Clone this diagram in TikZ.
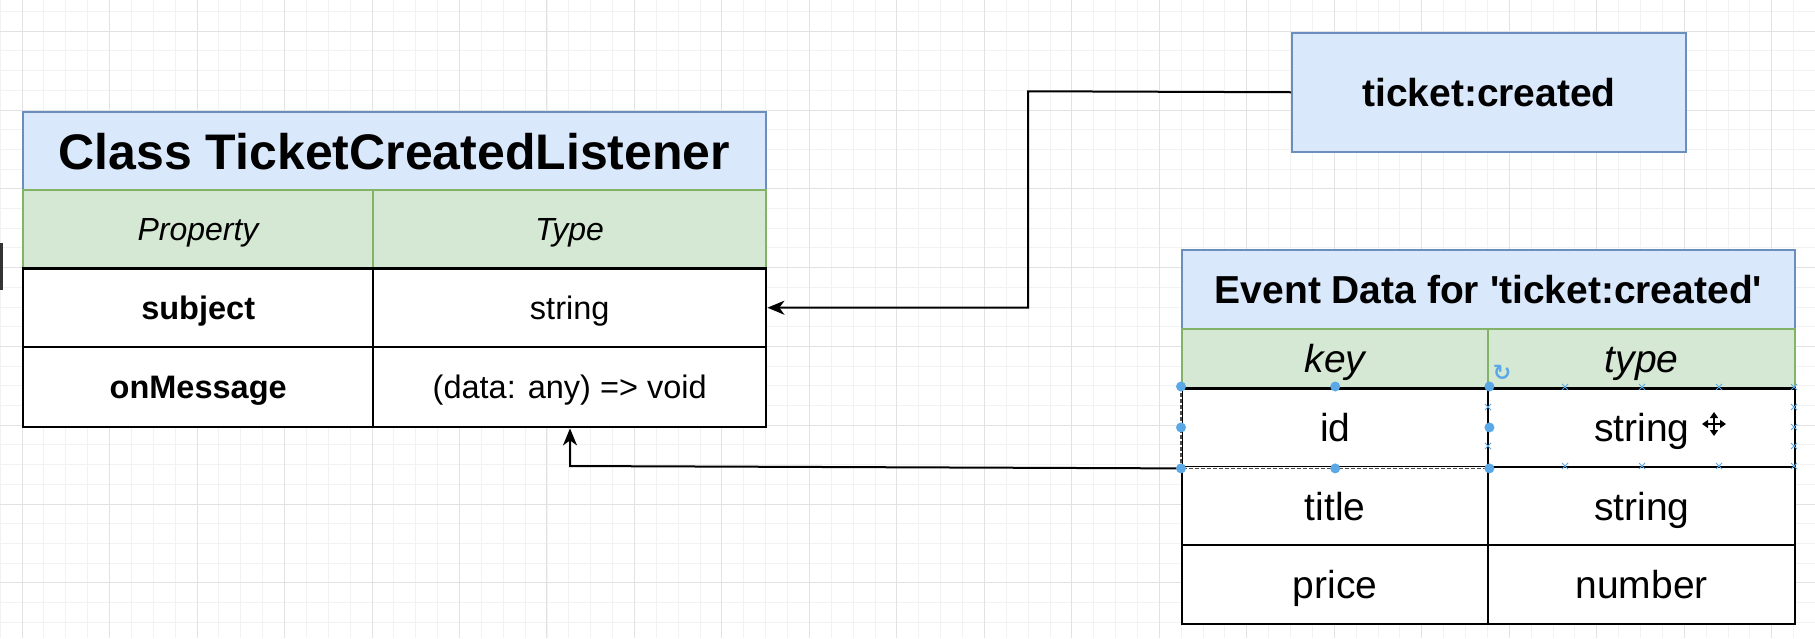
\documentclass[tikz,border=0pt]{standalone}
\usepackage{fontspec}
\setmainfont{Liberation Sans}
\newfontfamily\plainfont{Liberation Sans}
\newfontfamily\symfont{DejaVu Sans}
\usetikzlibrary{arrows.meta}
\definecolor{lblue}{HTML}{DAE8FC}
\definecolor{tblue}{HTML}{6C8EBF}
\definecolor{lgreen}{HTML}{D5E8D4}
\definecolor{tgreen}{HTML}{82B366}
\definecolor{selblue}{HTML}{5AA8E6}
\definecolor{minorgrid}{HTML}{F2F2F2}
\definecolor{majorgrid}{HTML}{E2E2E2}
\tikzset{
  cellbase/.style={inner sep=0pt, anchor=north west, align=center},
  titlecell/.style={cellbase, draw=tblue, fill=lblue, line width=1pt},
  headcell/.style={cellbase, draw=tgreen, fill=lgreen, line width=1pt},
  datacell/.style={cellbase, draw=black, fill=white, line width=1.2pt},
  conn/.style={line width=1pt, draw=black, -{Stealth[length=8.5pt,width=7pt,inset=2.5pt]}},
  seldot/.style={circle, fill=selblue, inner sep=0pt, minimum size=5pt},
  bigtitle/.style={font=\fontsize{25}{30}\selectfont\bfseries, text height=18pt, text depth=0pt},
  midtitle/.style={font=\fontsize{19.5}{24}\selectfont\bfseries, text height=14pt, text depth=0pt},
  lhead/.style={font=\fontsize{16}{20}\selectfont\itshape, text height=11.5pt, text depth=0pt},
  lbody/.style={font=\fontsize{16.25}{20}\selectfont, text height=11.7pt, text depth=0pt},
  lbodyb/.style={font=\fontsize{16.25}{20}\selectfont\bfseries, text height=11.7pt, text depth=0pt},
  rhead/.style={font=\fontsize{19.5}{24}\selectfont\itshape, text height=14pt, text depth=0pt},
  rbody/.style={font=\fontsize{19.5}{24}\selectfont, text height=14pt, text depth=0pt},
}
\newcommand{\xmark}[2]{\draw[selblue, line width=0.5pt] (#1-3,#2-3) -- (#1+3,#2+3) (#1-3,#2+3) -- (#1+3,#2-3);}
\newcommand{\sq}{{\plainfont '}}
\begin{document}
\begin{tikzpicture}[x=0.5pt,y=-0.5pt]
\useasboundingbox (0,0) rectangle (1815,638);
\fill[white] (0,0) rectangle (1815,638);
% grid
\foreach \k in {0,...,83} {
  \pgfmathsetmacro\xx{0.25+21.87*\k}
  \draw[minorgrid, line width=0.5pt] (\xx,0) -- (\xx,638);
}
\foreach \j in {-5,...,27} {
  \pgfmathsetmacro\yy{110+19.7*\j}
  \draw[minorgrid, line width=0.5pt] (0,\yy) -- (1815,\yy);
}
\foreach \k in {0,...,20} {
  \pgfmathsetmacro\xx{22.1+87.48*\k}
  \draw[majorgrid, line width=0.5pt] (\xx,0) -- (\xx,638);
}
\foreach \j in {-1,...,6} {
  \pgfmathsetmacro\yy{110+78.8*\j}
  \draw[majorgrid, line width=0.5pt] (0,\yy) -- (1815,\yy);
}
% left edge fragment
\fill[black!80] (0,243) rectangle (3,290);

% Class table
\node[titlecell, bigtitle, minimum width=371.5pt, minimum height=39pt] (lt-title) at (22,111) {Class TicketCreatedListener};
\node[headcell, lhead, minimum width=175pt, minimum height=39pt] (lt-h1) at (22,189) {Property};
\node[headcell, lhead, minimum width=196.5pt, minimum height=39pt] (lt-h2) at (372,189) {Type};
\node[datacell, lbodyb, minimum width=175pt, minimum height=39.5pt] (lt-r1a) at (22,267) {subject};
\node[datacell, lbody, minimum width=196.5pt, minimum height=39.5pt] (lt-r1b) at (372,267) {string};
\node[datacell, lbodyb, minimum width=175pt, minimum height=40pt] (lt-r2a) at (22,346) {onMessage};
\node[datacell, lbody, minimum width=196.5pt, minimum height=40pt] (lt-r2b) at (372,346) {(data: any) => void};

% ticket:created box
\node[titlecell, midtitle, minimum width=197pt, minimum height=59.25pt] (ticket) at (1291,32) {ticket:created};

% Event data table
\node[titlecell, midtitle, minimum width=306.5pt, minimum height=39.5pt] (ev-title) at (1181,249) {Event Data for \sq ticket:created\sq};
\node[headcell, rhead, minimum width=153pt, minimum height=29.25pt] (ev-h1) at (1181,328) {key};
\node[headcell, rhead, minimum width=153.5pt, minimum height=29.25pt] (ev-h2) at (1487,328) {type};
\node[datacell, rbody, minimum width=153pt, minimum height=39.75pt] (ev-r1a) at (1181,386.5) {id};
\node[datacell, rbody, minimum width=153.5pt, minimum height=39.75pt] (ev-r1b) at (1487,386.5) {string};
\node[datacell, rbody, minimum width=153pt, minimum height=39pt] (ev-r2a) at (1181,466) {title};
\node[datacell, rbody, minimum width=153.5pt, minimum height=39pt] (ev-r2b) at (1487,466) {string};
\node[datacell, rbody, minimum width=153pt, minimum height=39.25pt] (ev-r3a) at (1181,544) {price};
\node[datacell, rbody, minimum width=153.5pt, minimum height=39.25pt] (ev-r3b) at (1487,544) {number};
% redraw bottom border of header rows in black
\draw[black, line width=1.2pt] (lt-h1.south west) -- (lt-h2.south east);
\draw[black, line width=1.2pt] (ev-h1.south west) -- (ev-h2.south east);

% connectors
\coordinate (bend1) at (1028,91.25);
\draw[conn] (ticket.west) -- (bend1) |- (lt-r1b.east);
\coordinate (bend2) at (570,466);
\draw[conn] (ev-r1a.south west) -- (bend2) -- (bend2 |- lt-r2b.south);

% selection of the id cell
\draw[white, line width=1.4pt] (ev-r1a.north west) -- (ev-r1a.south west) -- (ev-r1a.south east);
\draw[black!70, line width=0.8pt, dash pattern=on 2pt off 1pt] (ev-r1a.north west) -- (ev-r1a.south west) -- (ev-r1a.south east);
\foreach \p in {north west, north, north east, west, east, south west, south, south east}
  \node[seldot] at (ev-r1a.\p) {};
\xmark{1565}{387}\xmark{1642}{387}\xmark{1719}{387}\xmark{1794}{387}
\xmark{1565}{466}\xmark{1642}{466}\xmark{1719}{466}\xmark{1794}{466}
\xmark{1794}{407}\xmark{1794}{427}\xmark{1794}{446}
\xmark{1488}{407}\xmark{1488}{446}
\node[text=selblue, font=\symfont\fontsize{11}{11}\selectfont\bfseries, inner sep=0pt] (rot) at (1502,373) {↻};
% move cursor
\coordinate (mc) at (1714,424);
\draw[white, line width=3pt] ([xshift=-6pt]mc) -- ([xshift=6pt]mc) ([yshift=-6pt]mc) -- ([yshift=6pt]mc);
\draw[black, line width=1.1pt, {Triangle[length=3pt,width=4pt]}-{Triangle[length=3pt,width=4pt]}] ([xshift=-6pt]mc) -- ([xshift=6pt]mc);
\draw[black, line width=1.1pt, {Triangle[length=3pt,width=4pt]}-{Triangle[length=3pt,width=4pt]}] ([yshift=-6pt]mc) -- ([yshift=6pt]mc);
\end{tikzpicture}
\end{document}
